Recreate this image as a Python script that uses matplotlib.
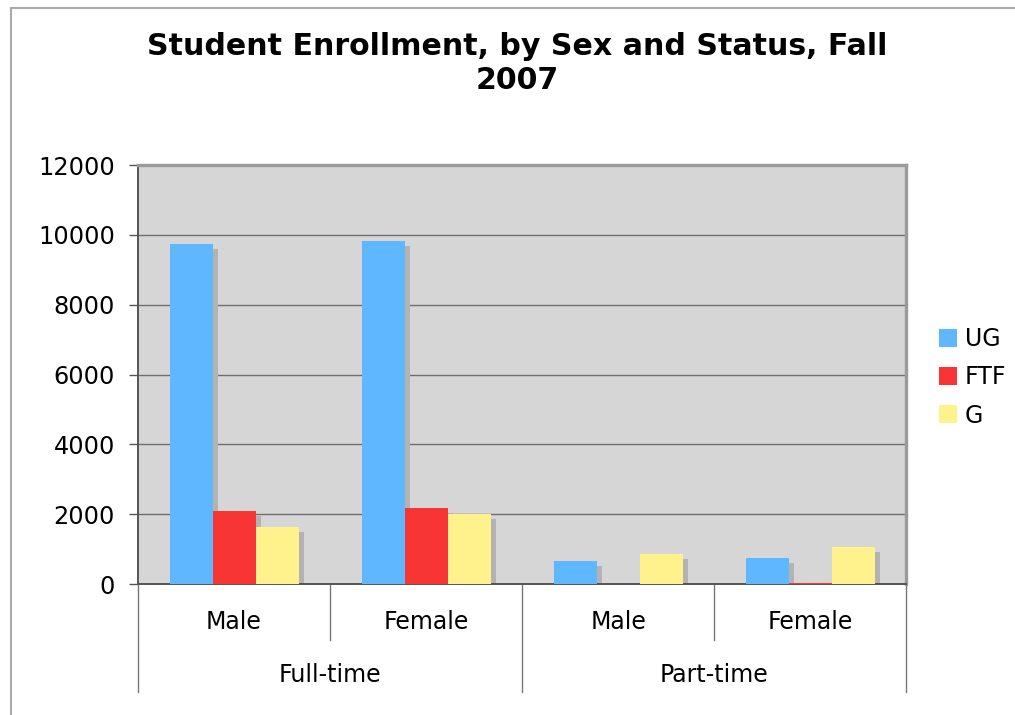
import matplotlib.pyplot as plt
import numpy as np
from matplotlib.lines import Line2D
from matplotlib.transforms import blended_transform_factory

# enrollment counts, fall 2007
sexes = ["Male", "Female", "Male", "Female"]
statuses = ["Full-time", "Part-time"]
series = ["UG", "FTF", "G"]
ug = [9740, 9830, 670, 745]
ftf = [2090, 2185, 0, 25]
grad = [1630, 2015, 870, 1050]
yticks = [0, 2000, 4000, 6000, 8000, 10000, 12000]

colors = ["#5fb8ff", "#f73535", "#fff28c"]
shadow = "#b3b3b3"

plt.rcParams['font.family'] = ['DejaVu Sans']

fig = plt.figure(figsize=(10.15, 7.15), dpi=100)
ax = fig.add_axes([0.136, 0.1832, 0.7567, 0.586])
ax.set_facecolor("#d6d6d6")

x = np.arange(len(sexes))
w = 0.224
dx = 0.027     # shadow offset, x
dy = 145       # shadow offset, y

handles = []
for i, vals in enumerate([ug, ftf, grad]):
    xs = x + (i - 1) * w
    v = np.array(vals, dtype=float)
    ax.bar(xs + dx, np.clip(v - dy, 0, None), width=w, color=shadow,
           align="center", zorder=2, linewidth=0)
for i, vals in enumerate([ug, ftf, grad]):
    xs = x + (i - 1) * w
    b = ax.bar(xs, vals, width=w, color=colors[i], align="center",
               zorder=3, linewidth=0, label=series[i])
    handles.append(b)

ax.set_xlim(-0.5, 3.5)
ax.set_ylim(0, 12000)
ax.set_yticks(yticks)
ax.set_yticklabels([str(t) for t in yticks], fontsize=17.3)
ax.tick_params(axis="y", length=6.5, width=1, color="#555555", pad=10)
ax.set_xticks([])
ax.grid(axis="y", color="#6e6e6e", linewidth=1.0, zorder=1)
ax.set_axisbelow(True)

for s in ["left", "bottom"]:
    ax.spines[s].set_color("#555555")
    ax.spines[s].set_linewidth(1.4)
for s in ["top", "right"]:
    ax.spines[s].set_color("#9a9a9a")
    ax.spines[s].set_linewidth(2.4)

# two-level category axis
tr = blended_transform_factory(ax.transData, ax.transAxes)
for i, name in enumerate(sexes):
    ax.text(i, -0.091, name, transform=tr, ha="center", va="center", fontsize=17)
for j, name in enumerate(statuses):
    ax.text(2 * j + 0.5, -0.217, name, transform=tr, ha="center", va="center", fontsize=17)
for xb in [-0.5, 0.5, 1.5, 2.5, 3.5]:
    low = -0.258 if xb in (-0.5, 1.5, 3.5) else -0.134
    ax.add_line(Line2D([xb, xb], [0, low], transform=tr, color="#777777",
                       linewidth=1.0, clip_on=False))

fig.text(0.51, 0.911, "Student Enrollment, by Sex and Status, Fall\n2007",
         ha="center", va="center", fontsize=21.6, fontweight="bold", linespacing=1.2)

ax.legend(loc="center left", bbox_to_anchor=(1.03, 0.493), frameon=False,
          fontsize=17, handlelength=0.8, handleheight=0.8, handletextpad=0.3,
          labelspacing=0.6, borderaxespad=0)

# outer frame
fig.add_artist(Line2D([11 / 1015, 11 / 1015], [0, 1 - 8 / 715], transform=fig.transFigure,
                      color="#aaaaaa", linewidth=1.5))
fig.add_artist(Line2D([11 / 1015, 1], [1 - 8 / 715, 1 - 8 / 715], transform=fig.transFigure,
                      color="#aaaaaa", linewidth=1.5))

fig.savefig("out.png", dpi=100)
